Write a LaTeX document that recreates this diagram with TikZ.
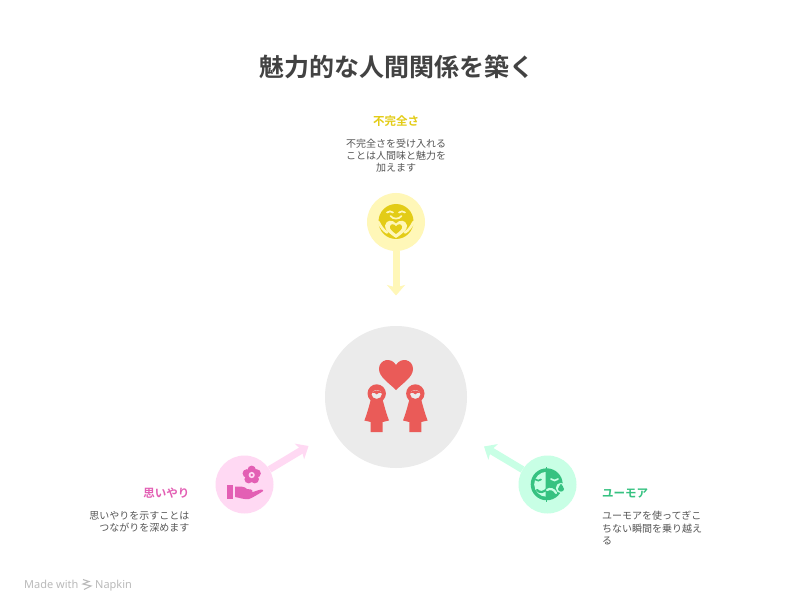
\documentclass[tikz,border=0pt]{standalone}
\usepackage{fontspec}
\usetikzlibrary{arrows.meta}
\newfontfamily\jp{Noto Sans CJK JP}
\newfontfamily\jpb{Noto Sans CJK JP Bold}
\newfontfamily\brand{Noto Sans}
\definecolor{ttl}{HTML}{424242}
\definecolor{body}{HTML}{555555}
\definecolor{ylight}{HTML}{FFF7B8}
\definecolor{ydark}{HTML}{E3CC17}
\definecolor{plight}{HTML}{FFD9F3}
\definecolor{pdark}{HTML}{E35FB4}
\definecolor{glight}{HTML}{C8FFE5}
\definecolor{gdark}{HTML}{36C281}
\definecolor{hubgrey}{HTML}{EBEBEB}
\definecolor{hubred}{HTML}{EA5B58}
\tikzset{
  x=1pt,y=-1pt,
  disc/.style={circle,inner sep=0pt,minimum size=58pt},
  hub/.style={circle,inner sep=0pt,minimum size=142pt,fill=hubgrey},
  link/.style={line width=7pt,-{Stealth[length=10.5pt,width=18pt,inset=2.5pt]}},
  titletext/.style={font=\jpb\fontsize{25}{30}\selectfont,text=ttl,inner sep=0pt},
  headtext/.style={font=\jpb\fontsize{11.5}{14}\selectfont,inner sep=0pt},
  desctext/.style={font=\jp\fontsize{10}{12.4}\selectfont,text=body,inner sep=0pt},
  brandtext/.style={font=\brand\fontsize{11}{13}\selectfont,text=black!27,inner sep=0pt},
  facearc/.style={line width=1.7pt,line cap=round},
  person/.pic={
    \fill[hubred,even odd rule] (0,0) circle (9.2) (0,0.8) ellipse (5.2 and 4.6);
    \fill[hubred] (-5,-0.5) .. controls (-3,-4) and (3,-4) .. (5,-0.5) .. controls (3,-1) and (1,-0.6) .. (0,0.8) .. controls (-1,-0.6) and (-3,-1) .. (-5,-0.5) -- cycle;
    \fill[hubred] (-6,6.5) -- (6,6.5) .. controls (7.5,12) and (9.5,20) .. (12.3,27) -- (6,28.5) -- (6,38.5) -- (-6,38.5) -- (-6,28.5) -- (-12.3,27) .. controls (-9.5,20) and (-7.5,12) .. (-6,6.5) -- cycle;
  }
}
\begin{document}
\begin{tikzpicture}
\useasboundingbox (0,0) rectangle (792,612);
\fill[white] (0,0) rectangle (792,612);

\node[titletext] (title) at (396.5,67) {魅力的な人間関係を築く};

% connectors
\node[disc,fill=ylight] (top) at (396,222) {};
\node[disc,fill=plight] (left) at (244.5,484.5) {};
\node[disc,fill=glight] (right) at (547.5,484.5) {};
\node[hub] (centre) at (396,397) {};
\coordinate (topend) at (396,295.5);
\coordinate (leftend) at (308.5,446);
\coordinate (rightend) at (484,446.5);
\draw[link,draw=ylight,fill=ylight] (top) -- (topend);
\draw[link,draw=plight,fill=plight] (left) -- (leftend);
\draw[link,draw=glight,fill=glight] (right) -- (rightend);

% centre icon
\fill[hubred] (396,390) .. controls (389,383) and (379,377) .. (379,369) .. controls (379,359.5) and (391,356.5) .. (396,365) .. controls (401,356.5) and (413,359.5) .. (413,369) .. controls (413,377) and (403,383) .. (396,390) -- cycle;
\pic at (376.7,393.5) {person};
\pic at (415.3,393.5) {person};

% yellow icon
\fill[ydark] (396,221.5) circle (17.5);
\begin{scope}[draw=ylight]
\draw[facearc] (387,212.5) .. controls (389,211) and (391,211) .. (393,212.5);
\draw[facearc] (399,212.5) .. controls (401,211) and (403,211) .. (405,212.5);
\draw[facearc] (390.5,216) .. controls (393,219.5) and (399,219.5) .. (401.5,216);
\draw[line width=2.6pt,line cap=round] (378.5,222) .. controls (381,227) and (383,230) .. (387,232.5);
\draw[line width=2.6pt,line cap=round] (413.5,222) .. controls (411,227) and (409,230) .. (405,232.5);
\end{scope}
\fill[ylight] (396,238) .. controls (390,234) and (384.5,230) .. (385,225.5) .. controls (386,219.5) and (393,219.5) .. (396,223.5) .. controls (399,219.5) and (406,219.5) .. (407,225.5) .. controls (407.5,230) and (402,234) .. (396,238) -- cycle;
\fill[ydark] (396,234) .. controls (392.5,231.5) and (389.5,229) .. (390,226.5) .. controls (390.5,223.5) and (394.5,223.5) .. (396,226.5) .. controls (397.5,223.5) and (401.5,223.5) .. (402,226.5) .. controls (402.5,229) and (399.5,231.5) .. (396,234) -- cycle;

% pink icon
\foreach \a in {-90,-18,54,126,198}
  \fill[pdark] (251.7,475)+({\a}:5.2) circle (4.2);
\fill[plight] (251.7,475) circle (3.1);
\fill[pdark] (251.7,475) circle (1.4);
\fill[pdark] (227.3,485) rectangle (233,498.5);
\fill[pdark] (235,486.5) -- (241,486.5) .. controls (244,486.5) and (246,488) .. (247,489) -- (251,489.5) .. controls (253,490) and (253,492) .. (251,492.5) -- (243,492.5) -- (251,492.5) .. controls (255,491.5) and (259,489.5) .. (262,489.5) .. controls (263.5,489.5) and (263.5,491) .. (262.5,491.5) .. controls (257,495) and (252,498) .. (249,499) .. controls (244,499.8) and (239,497.5) .. (235,497) -- cycle;

% green icon
\fill[gdark] (546.7,484.3) circle (16);
\fill[gdark] (546.2,466.5) rectangle (547.2,502);
\begin{scope}
\clip (520,460) rectangle (545.5,510);
\fill[glight] (546.7,484.3) circle (12.5);
\end{scope}
\begin{scope}[draw=gdark]
\draw[facearc] (535.5,479.5) .. controls (537,481) and (539.5,481) .. (541,479.5);
\draw[line width=2.2pt,line cap=round] (537,490) .. controls (540,493.5) and (544,492) .. (547,489);
\end{scope}
\begin{scope}[draw=glight]
\draw[facearc] (551,479) .. controls (553,481) and (556,481) .. (558,479);
\draw[line width=2.2pt,line cap=round] (547,490) .. controls (550,488) and (554,489) .. (556,493);
\end{scope}
\fill[glight] (561,488) circle (5.2);
\fill[gdark] (561,483.5) .. controls (562,486) and (564,487) .. (564,489) .. controls (564,492.5) and (558,492.5) .. (558,489) .. controls (558,487) and (560,486) .. (561,483.5) -- cycle;

% labels
\node[headtext,text=ydark] (h1) at (396,121) {不完全さ};
\node[desctext,align=center,anchor=north] (d1) at (396,138.5) {不完全さを受け入れる\\ことは人間味と魅力を\\加えます};
\node[headtext,text=pdark,anchor=east] (h2) at (189.5,493) {思いやり};
\node[desctext,align=right,anchor=north east] (d2) at (189.5,511) {思いやりを示すことは\\つながりを深めます};
\node[headtext,text=gdark,anchor=west] (h3) at (602,493) {ユーモア};
\node[desctext,align=left,anchor=north west] (d3) at (602,511) {ユーモアを使ってぎこ\\ちない瞬間を乗り越え\\る};

% brand
\node[brandtext,anchor=base west] (made) at (24,588.5) {Made with};
\draw[black!27,line width=1.1pt] (83,579.5) -- (89,581.5) -- (83,584) -- (91,586) -- (84,589.5);
\node[brandtext,anchor=base west] (napkin) at (95,588.5) {Napkin};
\end{tikzpicture}
\end{document}
